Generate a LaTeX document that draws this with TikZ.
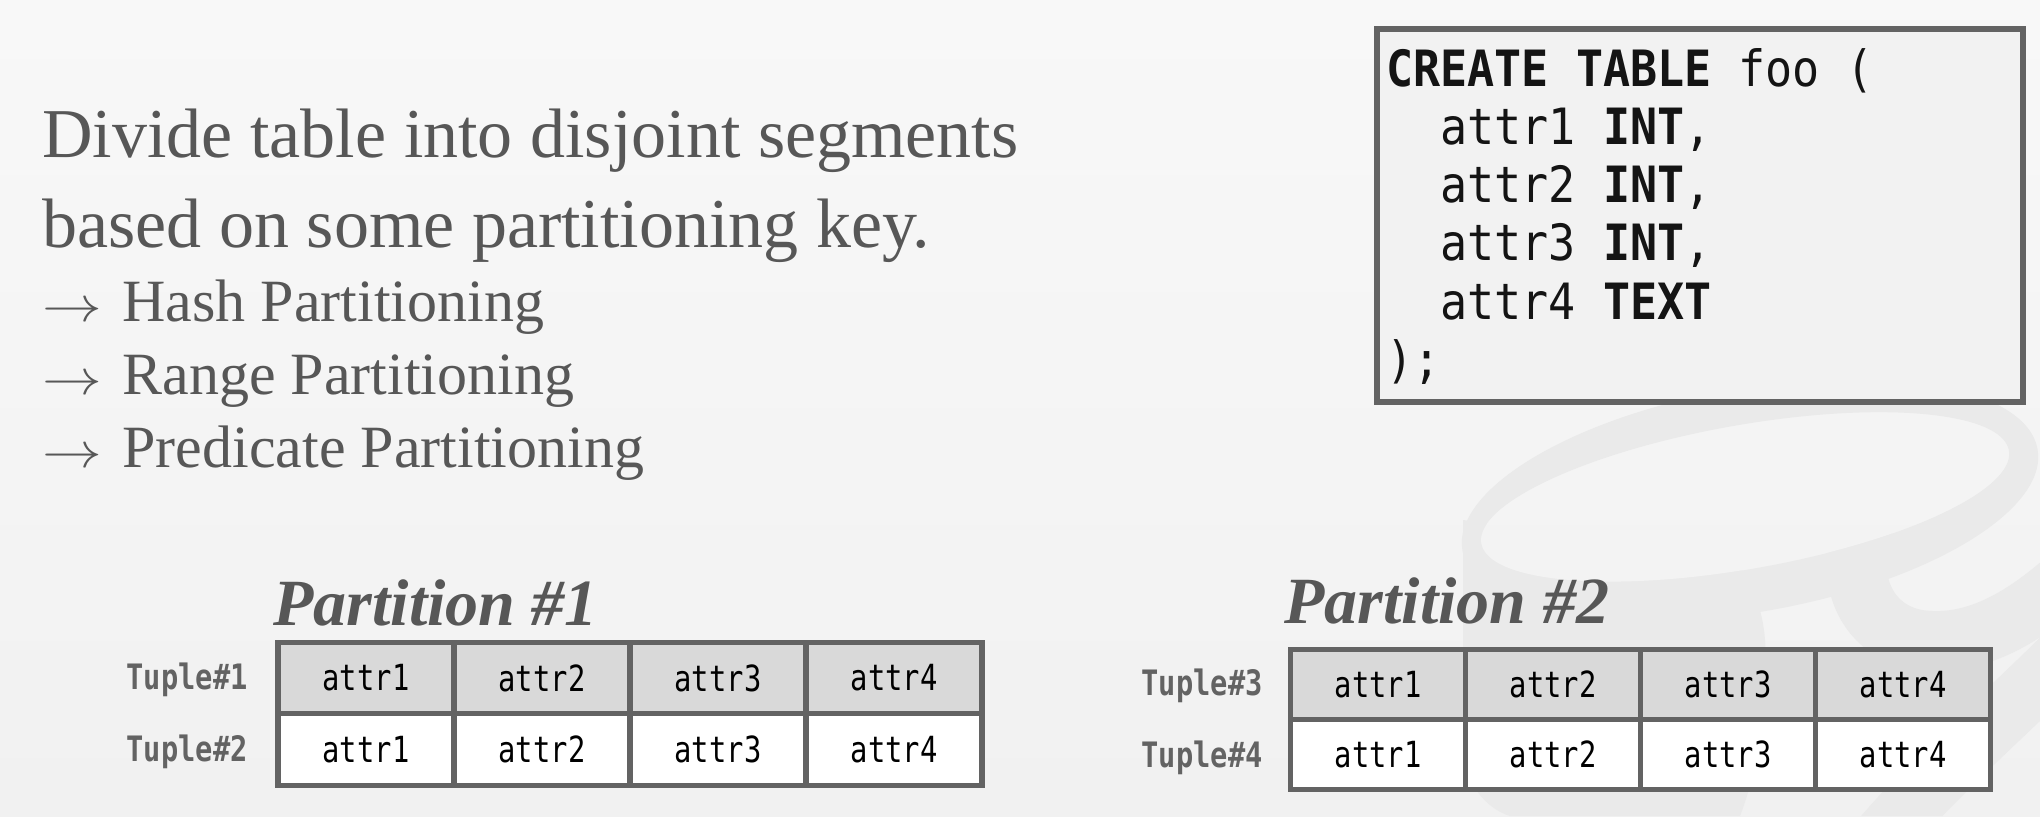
\documentclass[tikz,border=0pt]{standalone}
\usepackage{fontspec}
\setmainfont{Liberation Serif}
\newfontfamily\codefont[FakeStretch=0.9]{DejaVu Sans Mono}
\newfontfamily\cellfont[FakeStretch=0.8]{DejaVu Sans Mono}
\newfontfamily\tuplefont[FakeStretch=0.82]{DejaVu Sans Mono}
\definecolor{txtgray}{HTML}{575757}
\definecolor{bordergray}{HTML}{636363}
\definecolor{hdrfill}{HTML}{D9D9D9}
\definecolor{codefill}{HTML}{F2F2F2}
\definecolor{logogray}{HTML}{EAEAEA}
\definecolor{bgtop}{HTML}{F8F8F8}
\definecolor{bgbot}{HTML}{F1F1F1}
\tikzset{
  maintxt/.style={anchor=base west, text=txtgray, inner sep=0pt, font=\fontsize{35}{40}\selectfont},
  bultxt/.style={anchor=base west, text=txtgray, inner sep=0pt, font=\fontsize{30}{34}\selectfont},
  codetxt/.style={anchor=base west, text=black!92, inner sep=0pt, font=\codefont\fontsize{25}{28}\selectfont},
  codebox/.style={draw=bordergray, fill=codefill, line width=2.8pt, minimum width=323.2pt, minimum height=186.7pt, inner sep=0pt},
  ptitle/.style={anchor=base west, text=txtgray, inner sep=0pt, font=\fontsize{33}{36}\selectfont\bfseries\itshape},
  cellA/.style={draw=bordergray, line width=2.6pt, fill=hdrfill, minimum width=88pt, minimum height=35.75pt, inner sep=0pt, font=\cellfont\fontsize{18}{20}\selectfont},
  cellB/.style={cellA, fill=white},
  cellC/.style={cellA, minimum width=87.5pt, minimum height=35pt},
  cellD/.style={cellC, fill=white},
  tuplelbl/.style={anchor=east, inner sep=0pt, text=bordergray, font=\tuplefont\bfseries\fontsize{17.5}{19}\selectfont},
  logoband/.style={draw=logogray, line width=30pt, line cap=round},
}
\newcommand{\barrow}{\scalebox{1.2}[1]{$\rightarrow$}}
\begin{document}
\begin{tikzpicture}[x=0.5pt,y=-0.5pt]
\useasboundingbox (0,0) rectangle (2040,816);
\shade[top color=bgtop, bottom color=bgbot] (0,0) rectangle (2040,816);
% faint logo watermark
\begin{scope}[even odd rule]
  \clip (0,0) rectangle (2040,816)
        (1745,497) ellipse [x radius=268, y radius=72, rotate=10];
  \fill[logogray] (1750,500) ellipse [x radius=292, y radius=112, rotate=10];
  \fill[logogray] (1463,520) -- (1463,760) .. controls (1470,790) and (1490,810) .. (1510,816)
        -- (1740,816) .. controls (1762,760) and (1768,680) .. (1765,640)
        .. controls (1762,600) and (1745,565) .. (1718,545) -- (1600,540) -- cycle;
  \draw[logoband] (1900,470) .. controls (1830,540) and (1850,630) .. (1920,640)
        .. controls (1980,648) and (2030,610) .. (2060,585);
  \draw[logoband] (2070,650) .. controls (2000,720) and (1940,770) .. (1880,840);
\end{scope}

% main text
\node[maintxt] (l1) at (42,157) {Divide table into disjoint segments};
\node[maintxt] (l2) at (42,247) {based on some partitioning key.};
\node[bultxt] (a1) at (42,321) {\barrow};
\node[bultxt] (b1) at (122,321) {Hash Partitioning};
\node[bultxt] (a2) at (42,394) {\barrow};
\node[bultxt] (b2) at (122,394) {Range Partitioning};
\node[bultxt] (a3) at (42,467) {\barrow};
\node[bultxt] (b3) at (122,467) {Predicate Partitioning};

% code box
\node[codebox] (code) at (1700,215.5) {};
\node[codetxt] (c1) at (1386,86) {\textbf{CREATE TABLE} foo (};
\node[codetxt] (c2) at (1386,144.25) {\ \ attr1 \textbf{INT},};
\node[codetxt] (c3) at (1386,202.5) {\ \ attr2 \textbf{INT},};
\node[codetxt] (c4) at (1386,260.75) {\ \ attr3 \textbf{INT},};
\node[codetxt] (c5) at (1386,319) {\ \ attr4 \textbf{TEXT}};
\node[codetxt] (c6) at (1386,377.25) {);};

% partition 1
\node[ptitle] (p1) at (273,625) {Partition \#1};
\foreach \i/\x in {1/366,2/542,3/718,4/894}{
  \node[cellA] (t1c\i) at (\x,678) {attr\i};
}
\foreach \i/\x in {1/366,2/542,3/718,4/894}{
  \node[cellB] (t2c\i) at (\x,749.5) {attr\i};
}
\node[tuplelbl] (tu1) at (248,680) {Tuple\#1};
\node[tuplelbl] (tu2) at (248,752) {Tuple\#2};

% partition 2
\node[ptitle] (p2) at (1284,623) {Partition \#2};
\foreach \i/\x in {1/1378,2/1553,3/1728,4/1903}{
  \node[cellC] (t3c\i) at (\x,684.5) {attr\i};
}
\foreach \i/\x in {1/1378,2/1553,3/1728,4/1903}{
  \node[cellD] (t4c\i) at (\x,754.5) {attr\i};
}
\node[tuplelbl] (tu3) at (1263,686) {Tuple\#3};
\node[tuplelbl] (tu4) at (1263,758) {Tuple\#4};
\end{tikzpicture}
\end{document}
